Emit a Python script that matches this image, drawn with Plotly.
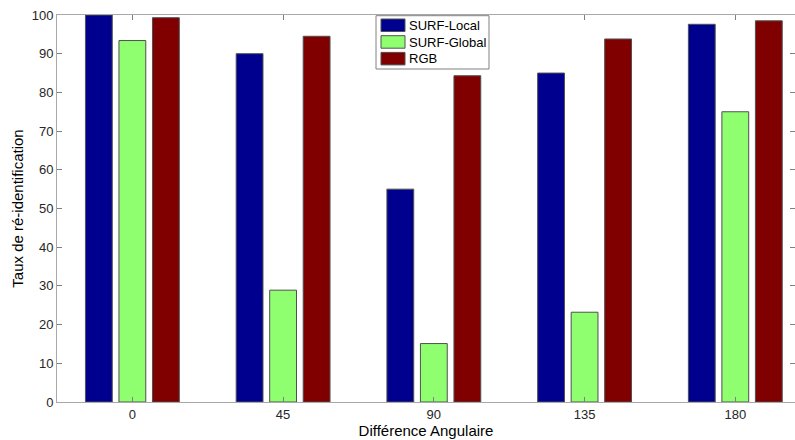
import plotly.graph_objects as go

# Angular difference categories (degrees)
angles = ["0", "45", "90", "135", "180"]
positions = [1, 2, 3, 4, 5]

# Re-identification rates (%) per method
surf_local = [100, 90, 55, 85, 97.6]
surf_global = [93.4, 28.9, 15.1, 23.2, 75]
rgb = [99.3, 94.5, 84.3, 93.8, 98.5]

series = [
    ("SURF-Local", surf_local, "#00008F"),
    ("SURF-Global", surf_global, "#8FFF70"),
    ("RGB", rgb, "#800000"),
]

W, H = 795, 440
ML, MR, MT, MB = 57, 0, 15, 38
PW, PH = W - ML - MR, H - MT - MB

def px(x):
    return (x - ML) / PW

def py(y):
    return (H - MB - y) / PH

font_family = "Liberation Sans, Arial, sans-serif"
axis_font = dict(family=font_family, size=13, color="#262626")

fig = go.Figure()
for name, vals, color in series:
    fig.add_trace(go.Bar(
        x=positions, y=vals, name=name, showlegend=False,
        marker=dict(color=color, line=dict(color="#505050", width=1)),
    ))

# Boxed legend in the upper middle of the axes
shapes = [dict(type="rect", xref="paper", yref="paper", layer="above",
               x0=px(376), x1=px(489), y0=py(69), y1=py(15.7),
               fillcolor="white", line=dict(color="#808080", width=1))]
annotations = []
for i, (name, _, color) in enumerate(series):
    top = 19 + i * 16.7
    shapes.append(dict(type="rect", xref="paper", yref="paper", layer="above",
                       x0=px(381), x1=px(405), y0=py(top + 12.5), y1=py(top),
                       fillcolor=color, line=dict(color="#505050", width=1)))
    annotations.append(dict(xref="paper", yref="paper", x=px(407), y=py(top + 6.5),
                            xanchor="left", yanchor="middle", showarrow=False,
                            text=name, font=dict(family=font_family, size=13, color="#000000")))

fig.update_layout(
    width=W, height=H,
    margin=dict(l=ML, r=MR, t=MT, b=MB),
    paper_bgcolor="white", plot_bgcolor="white",
    barmode="group", bargap=0.333, bargroupgap=0.2,
    font=axis_font,
    shapes=shapes, annotations=annotations,
    showlegend=False,
)

fig.update_xaxes(
    range=[0.5, 5.396],
    tickmode="array", tickvals=positions, ticktext=angles,
    showline=True, linecolor="#a8a8a8", linewidth=1, mirror="ticks",
    ticks="inside", ticklen=5, tickcolor="#808080",
    showgrid=False, zeroline=False,
    title=dict(text="Différence Angulaire", standoff=3,
               font=dict(family=font_family, size=15, color="#000000")),
    tickfont=axis_font,
)
fig.update_yaxes(
    range=[0, 100], dtick=10,
    showline=True, linecolor="#a8a8a8", linewidth=1, mirror="ticks",
    ticks="inside", ticklen=5, tickcolor="#808080",
    showgrid=False, zeroline=False,
    title=dict(text="Taux de ré-identification", standoff=4,
               font=dict(family=font_family, size=15, color="#000000")),
    tickfont=axis_font,
)

fig.write_html("out.html")
